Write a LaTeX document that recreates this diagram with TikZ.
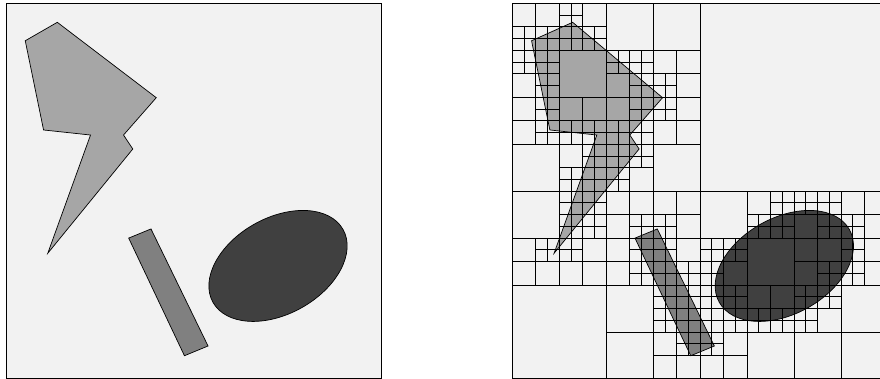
\documentclass[tikz,border=0pt]{standalone}
\definecolor{bgc}{HTML}{F2F2F2}
\definecolor{boltc}{HTML}{A6A6A6}
\definecolor{rectc}{HTML}{808080}
\definecolor{ellc}{HTML}{404040}
\tikzset{
  shapeline/.style={draw=black, line width=0.7pt, line join=miter},
  gridline/.style={draw=black, line width=0.8pt},
  border/.style={draw=black, line width=1pt},
}
\newcommand{\drawshapes}[1]{%
  \filldraw[shapeline, fill=boltc] (1.64,3.19) -- (#1,1.62) -- (12.8,8.04) -- (10.01,11.22) -- (10.8,12.41) -- (3.56,21.29) -- (7.2,11.22) -- (3.2,10.79) -- cycle;
  \filldraw[shapeline, fill=rectc] (10.45,20.0) -- (12.35,19.22) -- (17.21,29.19) -- (15.2,30.02) -- cycle;
  \filldraw[shapeline, fill=ellc, rotate around={29.2:(23.17,22.37)}] (23.17,22.37) ellipse [x radius=6.35, y radius=4.09];
}
\begin{document}
\begin{tikzpicture}[x=1pt,y=-1pt]
\useasboundingbox (0,0) rectangle (880,379);
\clip (0,0) rectangle (880,379);
% left: original scene
\begin{scope}[shift={(6,3.3)}, x=11.74pt, y=-11.74pt]
  \fill[bgc] (0,0) rectangle (32,32);
  \drawshapes{4.37}
  \draw[border] (0,0) rectangle (32,32);
\end{scope}
% right: quadtree decomposition
\begin{scope}[shift={(512.3,3.3)}, x=11.74pt, y=-11.74pt]
  \fill[bgc] (0,0) rectangle (32,32);
  \drawshapes{5.14}
  \foreach \gx/\gy/\gs in {
    0/0/32,
    0/0/16, 0/16/16, 16/16/16,
    0/0/8, 8/0/8, 0/8/8, 8/8/8, 0/16/8, 8/16/8, 8/24/8, 16/16/8, 24/16/8, 16/24/8, 24/24/8,
    0/0/4, 4/0/4, 0/4/4, 8/4/4, 12/4/4, 0/8/4, 4/8/4, 4/12/4, 8/8/4, 12/8/4, 8/12/4,
    4/16/4, 0/20/4, 4/20/4, 8/16/4, 12/16/4, 8/20/4, 12/20/4, 12/24/4, 12/28/4,
    20/16/4, 16/20/4, 24/16/4, 28/16/4, 24/20/4, 28/20/4, 16/24/4, 20/24/4, 16/28/4, 24/24/4,
    0/2/2, 2/2/2, 4/0/2, 4/2/2, 6/2/2, 0/4/2, 2/4/2, 2/6/2,
    8/4/2, 10/4/2, 10/6/2, 12/6/2,
    2/8/2, 2/10/2, 4/10/2, 6/10/2, 6/12/2, 4/14/2, 6/14/2,
    10/8/2, 8/10/2, 10/10/2, 12/8/2, 8/12/2, 10/12/2, 8/14/2,
    4/16/2, 6/16/2, 4/18/2, 6/18/2, 2/20/2, 4/20/2,
    10/18/2, 12/18/2, 10/20/2, 10/22/2, 12/20/2, 12/22/2, 14/22/2,
    12/24/2, 14/24/2, 12/26/2, 14/26/2, 14/28/2,
    22/16/2, 20/18/2, 22/18/2, 16/20/2, 18/20/2, 16/22/2,
    24/16/2, 26/16/2, 26/18/2, 28/18/2, 26/22/2, 28/20/2, 28/22/2,
    16/24/2, 18/24/2, 16/26/2, 18/26/2, 20/26/2, 22/26/2, 16/28/2,
    24/24/2, 26/24/2, 24/26/2}
  {
    \draw[gridline] ({\gx+\gs/2},\gy) -- ++(0,\gs) (\gx,{\gy+\gs/2}) -- ++(\gs,0);
  }
  \draw[border] (0,0) rectangle (32,32);
\end{scope}
\end{tikzpicture}
\end{document}
